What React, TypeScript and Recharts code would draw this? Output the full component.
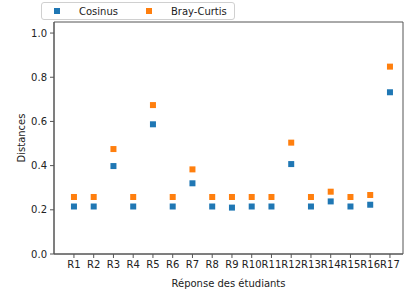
import React from 'react';
import { ScatterChart, Scatter, XAxis, YAxis, Legend, ReferenceArea } from 'recharts';

const categories = ['R1', 'R2', 'R3', 'R4', 'R5', 'R6', 'R7', 'R8', 'R9', 'R10', 'R11', 'R12', 'R13', 'R14', 'R15', 'R16', 'R17'];
const cosinus = [0.215, 0.215, 0.398, 0.215, 0.587, 0.215, 0.32, 0.215, 0.21, 0.215, 0.215, 0.407, 0.215, 0.238, 0.215, 0.223, 0.732];
const brayCurtis = [0.258, 0.258, 0.475, 0.258, 0.674, 0.258, 0.383, 0.258, 0.258, 0.258, 0.258, 0.504, 0.258, 0.282, 0.258, 0.267, 0.848];
const yTicks = [0, 0.2, 0.4, 0.6, 0.8, 1.0];
const seriesNames = ['Cosinus', 'Bray-Curtis'];
const seriesColors = ['#1f77b4', '#ff7f0e'];

const cosData = categories.map((c, i) => ({ x: i, y: cosinus[i] }));
const brayData = categories.map((c, i) => ({ x: i, y: brayCurtis[i] }));

const xDomain = [-1.01, 16.66];
const yDomain = [0, 1.05];
const font = 'DejaVu Sans, sans-serif';
const axisColor = '#555';

const Square = (props: any) => {
  const { cx, cy, fill } = props;
  return <rect x={cx - 3} y={cy - 3} width={6} height={6} fill={fill} />;
};

const LegendBox = () => (
  <div
    style={{
      display: 'flex',
      alignItems: 'center',
      border: '1px solid #d0d0d0',
      borderRadius: 3,
      background: '#fff',
      height: 18,
      padding: '0 7px 0 12px',
      fontFamily: font,
      fontSize: 10,
      color: '#222',
      boxSizing: 'border-box',
    }}
  >
    {seriesNames.map((n, i) => (
      <div key={n} style={{ display: 'flex', alignItems: 'center', marginLeft: i === 0 ? 0 : 28 }}>
        <span style={{ width: 6, height: 6, background: seriesColors[i], display: 'inline-block', marginRight: 19 }} />
        <span>{n}</span>
      </div>
    ))}
  </div>
);

export default function App() {
  return (
    <div style={{ position: 'absolute', left: 0, top: 0, width: 404, height: 293, background: '#fff' }}>
      <ScatterChart width={404} height={293} margin={{ top: 22, right: 1, bottom: 0, left: 0 }}>
        <ReferenceArea x1={xDomain[0]} x2={xDomain[1]} y1={yDomain[0]} y2={yDomain[1]} fill="none" stroke={axisColor} strokeWidth={1} ifOverflow="extendDomain" />
        <XAxis
          dataKey="x"
          type="number"
          domain={xDomain}
          ticks={categories.map((c, i) => i)}
          interval={0}
          tickFormatter={(v: number) => categories[v]}
          height={39}
          tickSize={4}
          tickMargin={3}
          stroke={axisColor}
          tick={{ fill: '#222', fontSize: 10, fontFamily: font }}
          allowDataOverflow
          label={{ value: 'Réponse des étudiants', position: 'insideBottom', offset: 6, fill: '#222', fontSize: 10, fontFamily: font }}
        />
        <YAxis
          dataKey="y"
          type="number"
          domain={yDomain}
          ticks={yTicks}
          tickFormatter={(v: number) => v.toFixed(1)}
          width={54}
          tickSize={4}
          tickMargin={3}
          stroke={axisColor}
          tick={{ fill: '#222', fontSize: 10, fontFamily: font }}
          allowDataOverflow
          label={{ value: 'Distances', angle: -90, position: 'insideLeft', offset: 21, fill: '#222', fontSize: 10, fontFamily: font, style: { textAnchor: 'middle' } }}
        />
        <Legend
          layout="horizontal"
          verticalAlign="middle"
          align="center"
          wrapperStyle={{ top: 2, left: 41, width: 'auto' }}
          content={() => <LegendBox />}
        />
        <Scatter name="Cosinus" data={cosData} fill={seriesColors[0]} shape={Square} isAnimationActive={false} />
        <Scatter name="Bray-Curtis" data={brayData} fill={seriesColors[1]} shape={Square} isAnimationActive={false} />
      </ScatterChart>
    </div>
  );
}
